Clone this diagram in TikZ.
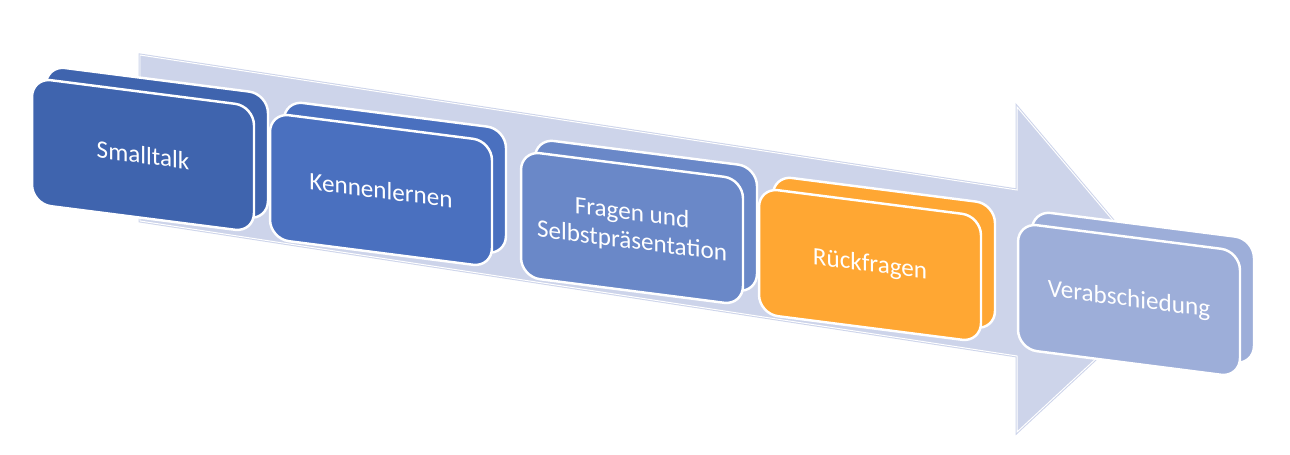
\documentclass[tikz,border=0pt]{standalone}
\usepackage{fontspec}
\setmainfont{Carlito}
\usepackage{tikz}
\usetikzlibrary{calc}

\definecolor{arrowfill}{RGB}{205,212,234}
\definecolor{stepone}{RGB}{63,100,174}
\definecolor{steptwo}{RGB}{74,112,191}
\definecolor{stepthree}{RGB}{106,136,200}
\definecolor{stepfour}{RGB}{255,167,51}
\definecolor{stepfive}{RGB}{157,174,217}

\tikzset{
  stage/.style={rectangle, rounded corners=0.38cm, draw=white, line width=1.4pt,
    minimum width=4.44cm, minimum height=2.52cm, inner sep=2pt, align=center,
    text=white, font=\fontsize{14.3}{16}\selectfont, transform shape},
  flowarrow/.style={fill=arrowfill, draw=arrowfill, line width=1.7pt, line join=miter}
}

\begin{document}
\begin{tikzpicture}[x=0.02cm, y=-0.02cm]
  \useasboundingbox (0,0) rectangle (1290,455);

  %% background arrow
  \draw[flowarrow] (140,55) -- (1017,190) -- (1017,107) -- (1171,289)
    -- (1017,432) -- (1017,356) -- (140,221) -- cycle;
  \draw[white, line width=0.55pt] (140,55) -- (1017,190) -- (1017,107) -- (1171,289)
    -- (1017,432) -- (1017,356) -- (140,221) -- cycle;

  %% stages, back layer first then front face
  \foreach \cx/\cy/\col/\nm/\txt in {%
      143/155/stepone/smalltalk/Smalltalk,%
      381/190/steptwo/kennen/Kennenlernen,%
      632/228/stepthree/fragen/{Fragen und\\Selbstpräsentation},%
      870/265/stepfour/rueck/Rückfragen,%
      1129/300/stepfive/abschied/Verabschiedung}{
    \begin{scope}[shift={(\cx,\cy)}, yslant=-0.128]
      \node[stage, fill=\col] (\nm back) at (14,-14) {};
      \node[stage, fill=\col] (\nm) at (0,0) {\txt};
    \end{scope}
  }

\end{tikzpicture}
\end{document}
